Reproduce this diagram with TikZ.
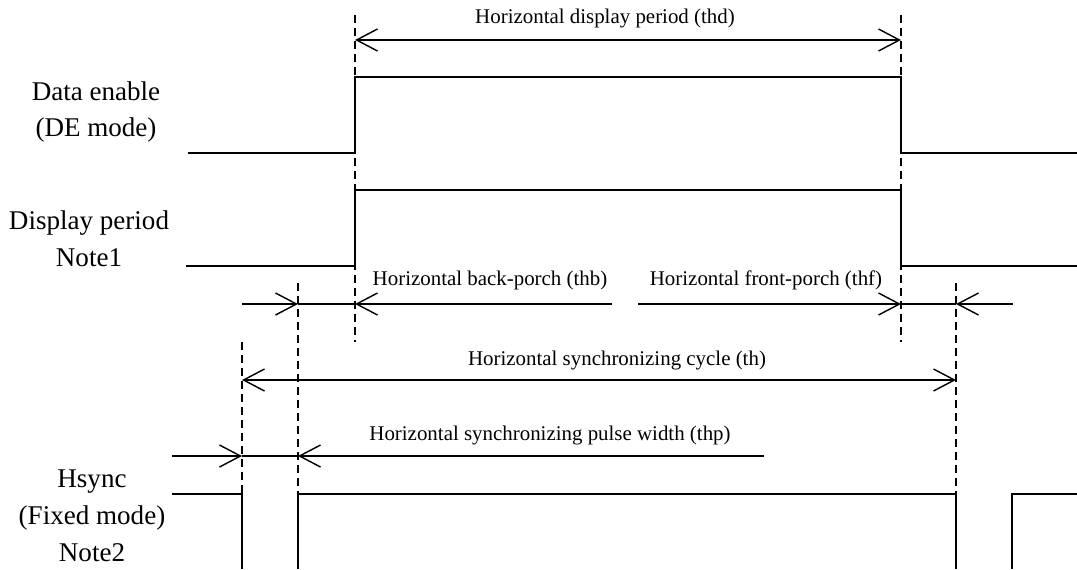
\documentclass[tikz,border=0pt]{standalone}
\usepackage{fontspec}
\setmainfont{Liberation Serif}
\usetikzlibrary{arrows.meta}

\begin{document}
\begin{tikzpicture}[x=0.02cm,y=-0.02cm,
  sig/.style={line width=1pt},
  dim/.style={line width=0.8pt},
  guide/.style={line width=0.7pt,dash pattern=on 0.16cm off 0.1cm},
  big/.style={font=\fontsize{15.4}{21}\selectfont,align=center,inner sep=0pt},
  small/.style={font=\fontsize{11.9}{14}\selectfont,inner sep=0pt},
  >={Straight Barb[length=0.42cm,width=0.44cm]}]
\useasboundingbox (0,0) rectangle (1077,569);

\pgfmathsetmacro{\xs}{242};
\pgfmathsetmacro{\xp}{298};
\pgfmathsetmacro{\xd}{355};
\pgfmathsetmacro{\xe}{901};
\pgfmathsetmacro{\xn}{956};
\pgfmathsetmacro{\xr}{1012};

% signal names
\node[big] (de) at (96,112) {Data enable\\(DE mode)};
\node[big] (dp) at (89,239) {Display period\\Note1};
\node[big] (hs) at (92,516) {Hsync\\(Fixed mode)\\Note2};

% waveforms
\draw[sig] (188,153) -- (\xd,153) -- (\xd,77) -- (\xe,77) -- (\xe,153) -- (1077,153);
\draw[sig] (186,266) -- (\xd,266) -- (\xd,190) -- (\xe,190) -- (\xe,266) -- (1077,266);
\draw[sig] (172,494) -- (\xs,494) -- (\xs,569);
\draw[sig] (\xp,569) -- (\xp,494) -- (\xn,494) -- (\xn,569);
\draw[sig] (\xr,569) -- (\xr,494) -- (1077,494);

% guide lines
\draw[guide] (\xd,15) -- (\xd,342);
\draw[guide] (\xe,15) -- (\xe,342);
\draw[guide] (\xs,342) -- (\xs,494);
\draw[guide] (\xp,283) -- (\xp,494);
\draw[guide] (\xn,283) -- (\xn,494);

% thd
\coordinate (thd-l) at (\xd,40);
\coordinate (thd-r) at (\xe,40);
\draw[dim,<->] (thd-l) -- (thd-r);
\node[small] (thd) at (605,18) {Horizontal display period (thd)};

% thb, thf
\coordinate (thb-a) at (242,304);
\coordinate (thb-b) at (\xp,304);
\coordinate (thb-c) at (\xd,304);
\coordinate (thb-d) at (612,304);
\draw[dim,->] (thb-a) -- (thb-b);
\draw[dim] (thb-b) -- (thb-c);
\draw[dim,<-] (thb-c) -- (thb-d);
\node[small] (thb) at (490,280) {Horizontal back-porch (thb)};

\coordinate (thf-a) at (638,304);
\coordinate (thf-b) at (\xe,304);
\coordinate (thf-c) at (\xn,304);
\coordinate (thf-d) at (1013,304);
\draw[dim,->] (thf-a) -- (thf-b);
\draw[dim] (thf-b) -- (thf-c);
\draw[dim,<-] (thf-c) -- (thf-d);
\node[small] (thf) at (766,280) {Horizontal front-porch (thf)};

% th
\coordinate (th-l) at (\xs,380);
\coordinate (th-r) at (\xn,380);
\draw[dim,<->] (th-l) -- (th-r);
\node[small] (th) at (617,360) {Horizontal synchronizing cycle (th)};

% thp
\coordinate (thp-a) at (172,456);
\coordinate (thp-b) at (\xs,456);
\coordinate (thp-c) at (\xp,456);
\coordinate (thp-d) at (764,456);
\draw[dim,->] (thp-a) -- (thp-b);
\draw[dim] (thp-b) -- (thp-c);
\draw[dim,<-] (thp-c) -- (thp-d);
\node[small] (thp) at (550,435) {Horizontal synchronizing pulse width (thp)};
\end{tikzpicture}
\end{document}
